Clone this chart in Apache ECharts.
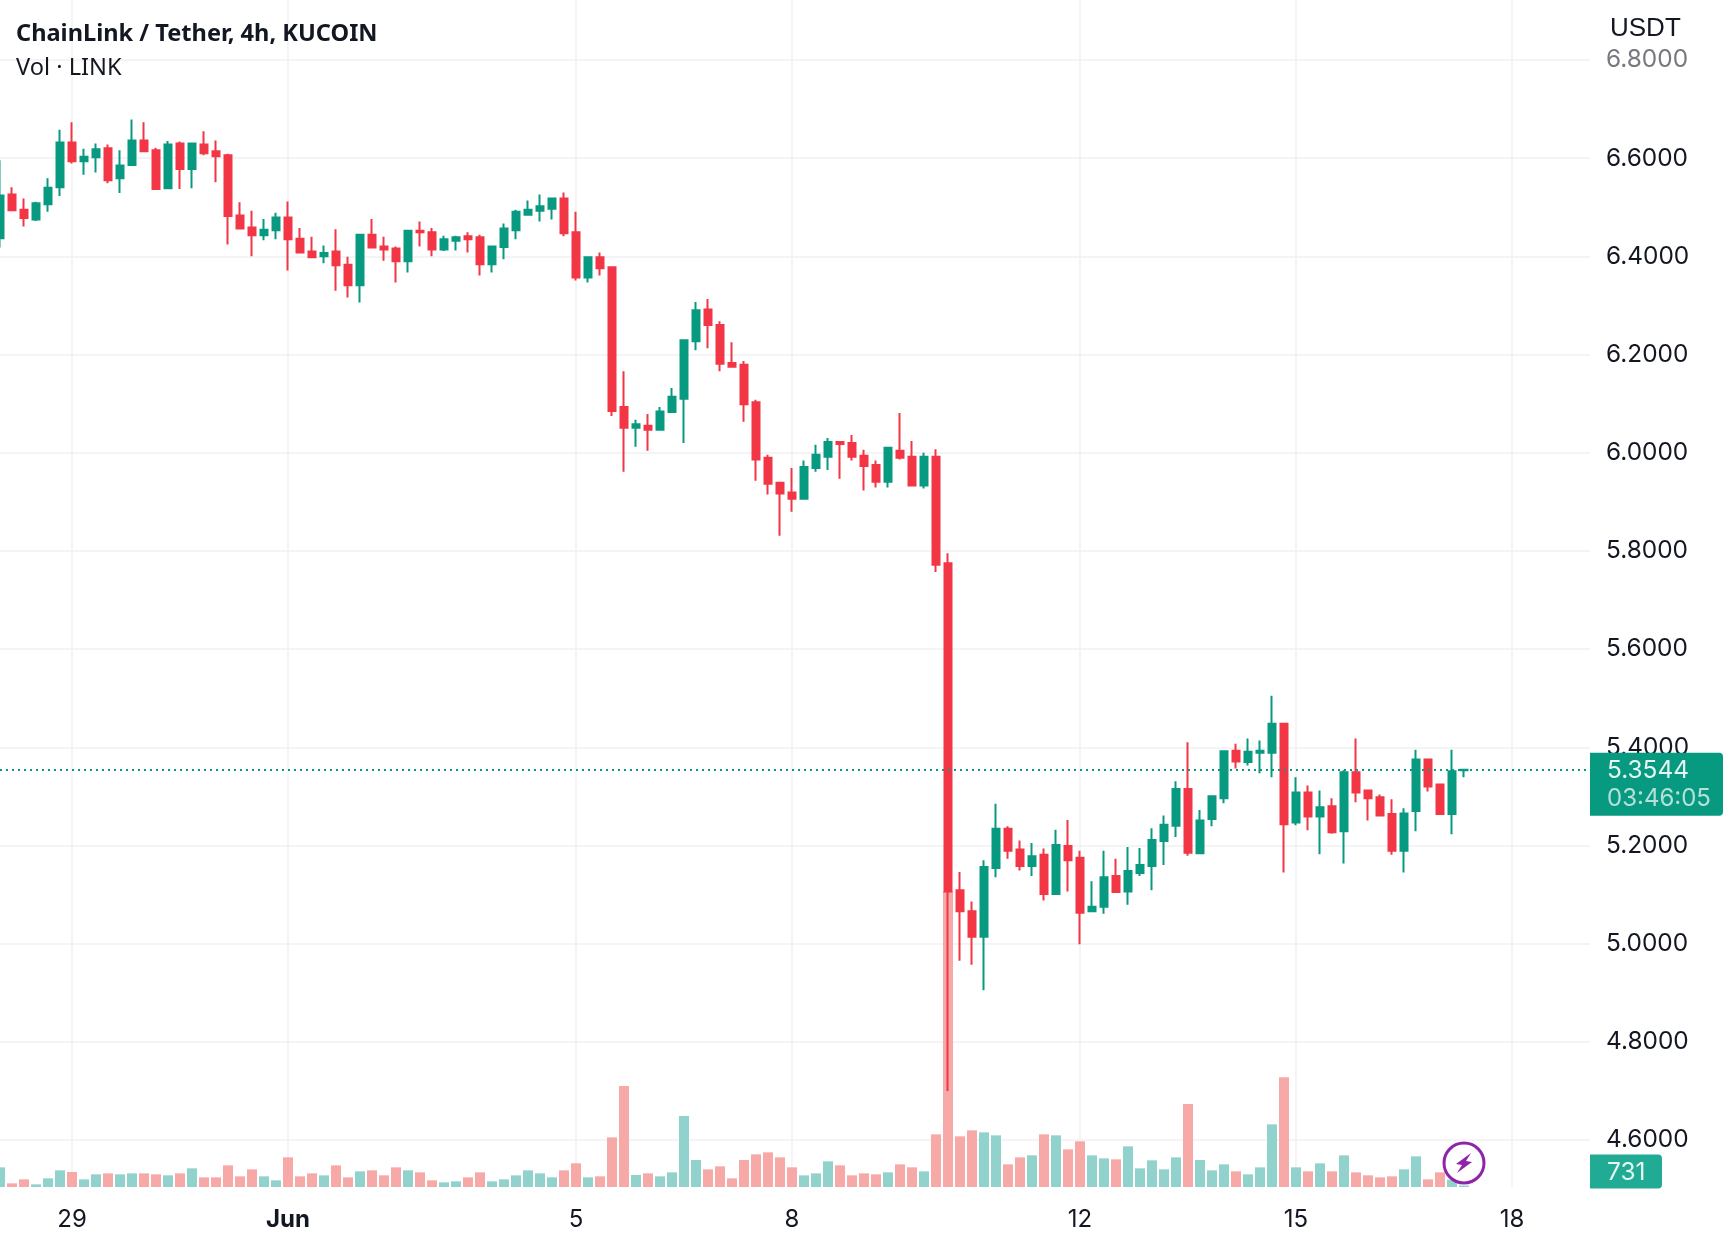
<!DOCTYPE html>
<html>
<head>
<meta charset="utf-8">
<title>ChainLink / Tether, 4h, KUCOIN</title>
<style>
  html, body { margin: 0; padding: 0; background: #fff; }
  #main { width: 1730px; height: 1244px; }
</style>
<script src="https://cdn.jsdelivr.net/npm/echarts@6/dist/echarts.min.js"></script>
</head>
<body>
<div id="main"></div>
<script>
// one entry per 4h candle
var opens = [6.437,6.526,6.495,6.475,6.506,6.541,6.632,6.594,6.602,6.620,6.559,6.586,6.636,6.616,6.539,6.630,6.578,6.628,6.614,6.606,
  6.483,6.459,6.443,6.453,6.479,6.436,6.410,6.400,6.410,6.383,6.341,6.444,6.420,6.416,6.390,6.452,6.449,6.414,6.432,6.441,
  6.439,6.384,6.419,6.453,6.485,6.493,6.497,6.518,6.449,6.357,6.398,6.378,6.093,6.051,6.055,6.047,6.083,6.110,6.227,6.292,
  6.260,6.183,6.179,6.103,5.990,5.939,5.919,5.906,5.969,5.992,6.022,6.020,5.994,5.975,5.941,6.004,5.992,5.933,5.992,5.775,
  5.109,5.066,5.014,5.154,5.234,5.192,5.158,5.181,5.101,5.199,5.175,5.066,5.075,5.138,5.106,5.144,5.158,5.209,5.240,5.315,
  5.184,5.254,5.296,5.393,5.370,5.389,5.389,5.448,5.247,5.308,5.259,5.280,5.229,5.349,5.312,5.298,5.264,5.189,5.270,5.375,
  5.324,5.264,5.353];
var closes = [6.524,6.494,6.478,6.508,6.540,6.632,6.594,6.603,6.618,6.555,6.585,6.636,6.614,6.537,6.628,6.578,6.630,6.610,6.604,6.482,
  6.457,6.443,6.454,6.479,6.435,6.408,6.398,6.407,6.382,6.341,6.444,6.418,6.414,6.390,6.452,6.449,6.414,6.435,6.439,6.435,
  6.384,6.420,6.457,6.491,6.495,6.502,6.518,6.447,6.357,6.398,6.376,6.085,6.051,6.058,6.047,6.084,6.114,6.229,6.290,6.260,
  6.181,6.175,6.099,5.986,5.937,5.917,5.906,5.971,5.996,6.022,6.018,5.992,5.973,5.941,6.010,5.990,5.933,5.992,5.772,5.106,
  5.066,5.014,5.156,5.234,5.189,5.158,5.178,5.101,5.201,5.170,5.063,5.075,5.135,5.105,5.148,5.160,5.211,5.242,5.315,5.185,
  5.251,5.300,5.392,5.371,5.391,5.393,5.448,5.243,5.308,5.259,5.278,5.227,5.349,5.308,5.296,5.261,5.189,5.265,5.375,5.320,
  5.264,5.351,5.3544];
var lows = [6.418,6.494,6.461,6.472,6.491,6.523,6.589,6.566,6.571,6.549,6.529,6.586,6.614,6.537,6.539,6.537,6.539,6.606,6.551,6.424,
  6.457,6.400,6.433,6.435,6.371,6.406,6.397,6.386,6.330,6.316,6.306,6.418,6.391,6.347,6.367,6.420,6.400,6.411,6.412,6.408,
  6.361,6.367,6.394,6.435,6.485,6.471,6.475,6.441,6.351,6.347,6.361,6.075,5.961,6.012,6.004,6.047,6.083,6.020,6.209,6.213,
  6.166,6.175,6.063,5.943,5.915,5.831,5.880,5.906,5.961,5.965,5.947,5.984,5.923,5.929,5.929,5.986,5.933,5.927,5.757,4.700,
  4.965,4.957,4.905,5.135,5.173,5.149,5.138,5.088,5.101,5.106,4.999,5.064,5.061,5.103,5.079,5.138,5.109,5.160,5.217,5.179,
  5.184,5.239,5.286,5.357,5.363,5.347,5.339,5.145,5.241,5.231,5.182,5.224,5.163,5.288,5.251,5.259,5.181,5.145,5.229,5.310,
  5.262,5.223,5.339];
var highs = [6.596,6.541,6.518,6.511,6.559,6.658,6.673,6.619,6.630,6.628,6.616,6.679,6.673,6.621,6.635,6.634,6.632,6.655,6.636,6.609,
  6.510,6.493,6.476,6.489,6.512,6.458,6.440,6.422,6.455,6.399,6.444,6.476,6.440,6.420,6.454,6.471,6.458,6.442,6.442,6.449,
  6.444,6.420,6.467,6.495,6.514,6.526,6.518,6.530,6.491,6.398,6.408,6.380,6.166,6.067,6.079,6.093,6.132,6.229,6.307,6.313,
  6.268,6.225,6.187,6.108,5.996,5.941,5.969,5.984,6.016,6.030,6.024,6.036,6.006,5.984,6.012,6.081,6.024,6.000,6.007,5.795,
  5.146,5.086,5.170,5.285,5.239,5.210,5.205,5.194,5.232,5.252,5.189,5.127,5.189,5.173,5.197,5.195,5.235,5.261,5.331,5.410,
  5.272,5.300,5.392,5.407,5.418,5.414,5.505,5.448,5.339,5.322,5.312,5.296,5.353,5.418,5.312,5.304,5.294,5.276,5.395,5.377,
  5.326,5.395,5.3544];
var volumes = [10030,1870,3910,1360,4420,8500,7650,3910,6460,6970,6460,6970,6970,6460,5950,6970,9520,4930,4930,11050,
  5440,9010,5440,3400,15130,5440,6970,5950,11050,4930,7990,8500,5950,10030,8500,7480,3400,2380,2890,4930,
  7480,2890,3910,5950,8500,6970,4930,8500,12070,4930,5440,25330,51510,6120,6970,5440,7480,36210,13770,9010,
  10540,4420,13770,16660,17680,15130,10030,5950,6970,13090,11050,5950,6970,6460,7480,11560,10030,7990,26860,151000,
  25840,28900,27880,26350,11560,15130,16150,26860,26350,19210,23290,16150,14620,14110,20740,9520,13600,9010,15130,42330,
  13770,8500,11560,7990,6460,10030,31960,55930,10030,7990,12070,7990,16150,7480,5950,4930,5440,9010,15640,3910,
  7480,3740,731];

var tickIndex = [6, 24, 48, 66, 90, 108, 126];
var tickLabels = ["29", "Jun", "5", "8", "12", "15", "18"];
var lastPrice = 5.3544;
var countdown = "03:46:05";

var GREEN = "#089981", RED = "#F23645";
var FONT = "Inter";
var TEXT = "#131722";
var GRID = "#f0f0f3";

// 133 bands of 12px, first candle centred on the left edge
var categories = [];
for (var i = 0; i < 133; i++) categories.push(String(i));

var candles = opens.map(function (o, i) {
  return [o, closes[i], lows[i], highs[i]];
});
var volumeBars = volumes.map(function (v, i) {
  return {
    value: v,
    itemStyle: { color: closes[i] >= opens[i] ? "#92d2cc" : "#f7a9a7" }
  };
});

function isTick(index) {
  return tickIndex.indexOf(index) >= 0;
}

var chart = echarts.init(document.getElementById("main"), null, { renderer: "canvas" });

chart.setOption({
  animation: false,
  backgroundColor: "#ffffff",
  title: [
    { text: "ChainLink / Tether, 4h, KUCOIN", left: 16, top: 22, padding: 0,
      textStyle: { fontFamily: "Noto Sans", fontWeight: "bold", fontSize: 23.6, color: TEXT } },
    { text: "Vol · LINK", left: 16, top: 56, padding: 0,
      textStyle: { fontFamily: "Noto Sans", fontWeight: "normal", fontSize: 23.6, color: TEXT } },
    { text: "USDT", left: 1610, top: 16, padding: 0,
      textStyle: { fontFamily: "Liberation Sans", fontWeight: "normal", fontSize: 26, color: TEXT } }
  ],
  grid: [
    { left: -6, width: 1596, top: 60, height: 1080, outerBoundsMode: "none" },
    { left: -6, width: 1596, top: 0, height: 1187, outerBoundsMode: "none" }
  ],
  xAxis: [
    {
      type: "category", gridIndex: 0, data: categories,
      axisLine: { show: false }, axisTick: { show: false }, axisLabel: { show: false }, splitLine: { show: false }
    },
    {
      type: "category", gridIndex: 1, data: categories,
      axisLine: { show: false },
      axisTick: { show: false },
      axisLabel: {
        margin: 21,
        fontFamily: FONT,
        fontSize: 24,
        color: TEXT,
        interval: function (index) { return isTick(index); },
        formatter: function (value) {
          var label = tickLabels[tickIndex.indexOf(Number(value))];
          return label === "Jun" ? "{b|Jun}" : label;
        },
        rich: { b: { fontFamily: FONT, fontSize: 24, fontWeight: "bold", color: TEXT } }
      },
      splitLine: {
        show: true,
        alignWithLabel: true,
        interval: function (index) { return isTick(index); },
        lineStyle: { color: GRID, width: 1.5 }
      }
    }
  ],
  yAxis: [
    {
      type: "value", gridIndex: 0, position: "right",
      min: 4.6, max: 6.8, interval: 0.2,
      axisLine: { show: false }, axisTick: { show: false },
      axisLabel: {
        margin: 16,
        padding: [5, 0, 0, 0],
        fontFamily: FONT,
        fontSize: 24.4,
        color: function (value) { return value > 6.79 ? "#77797f" : TEXT; },
        formatter: function (value) { return value.toFixed(4); }
      },
      splitLine: { show: true, lineStyle: { color: GRID, width: 1.5 } }
    },
    {
      // 1px = 510 LINK
      type: "value", gridIndex: 1, min: 0, max: 605370,
      show: false, splitLine: { show: false }
    }
  ],
  series: [
    {
      name: "Vol",
      type: "bar",
      xAxisIndex: 1,
      yAxisIndex: 1,
      barWidth: 10,
      z: 1,
      data: volumeBars
    },
    {
      name: "LINKUSDT",
      type: "candlestick",
      xAxisIndex: 0,
      yAxisIndex: 0,
      barWidth: 8,
      z: 3,
      itemStyle: {
        color: GREEN, color0: RED,
        borderColor: GREEN, borderColor0: RED,
        borderWidth: 2
      },
      markLine: {
        silent: true,
        precision: 4,
        symbol: ["none", "none"],
        animation: false,
        label: { show: false },
        lineStyle: { color: GREEN, type: [2, 4], width: 2 },
        data: [{ yAxis: lastPrice }]
      },
      data: candles
    }
  ]
});

// price badges on the axis, placed through the axis scales
var lastY = chart.convertToPixel({ yAxisIndex: 0 }, lastPrice);
var volY = chart.convertToPixel({ yAxisIndex: 1 }, volumes[volumes.length - 1]);

chart.setOption({
  graphic: [
    {
      type: "rect", z: 100,
      shape: { x: 1590, y: lastY - 17, width: 133, height: 63, r: [0, 4, 4, 0] },
      style: { fill: GREEN }
    },
    {
      type: "text", z: 101, x: 1607, y: lastY + 1,
      style: { text: lastPrice.toFixed(4), font: "24.4px " + FONT, fill: "#e6f5f2", verticalAlign: "middle" }
    },
    {
      type: "text", z: 101, x: 1607, y: lastY + 29,
      style: { text: countdown, font: "24px " + FONT, fill: "#b4e0d8", verticalAlign: "middle" }
    },
    {
      type: "rect", z: 100,
      shape: { x: 1590, y: volY - 31, width: 72, height: 34, r: [0, 4, 4, 0] },
      style: { fill: "#22ab94" }
    },
    {
      type: "text", z: 101, x: 1607, y: volY - 13,
      style: { text: String(volumes[volumes.length - 1]), font: "24.4px " + FONT, fill: "#e6f5f2", verticalAlign: "middle" }
    },
    {
      // lightning marker
      type: "group", z: 102, x: 1464, y: 1163,
      children: [
        { type: "circle", z: 102, shape: { cx: 0, cy: 0, r: 20 }, style: { fill: "#fff", stroke: "#8e24aa", lineWidth: 3 } },
        {
          type: "polygon", z: 103,
          shape: { points: [[7, -10], [-8, 1], [-2, 2], [-7, 10], [8, -1], [2, -2]] },
          style: { fill: "#8e24aa" }
        }
      ]
    }
  ]
});
</script>
</body>
</html>
